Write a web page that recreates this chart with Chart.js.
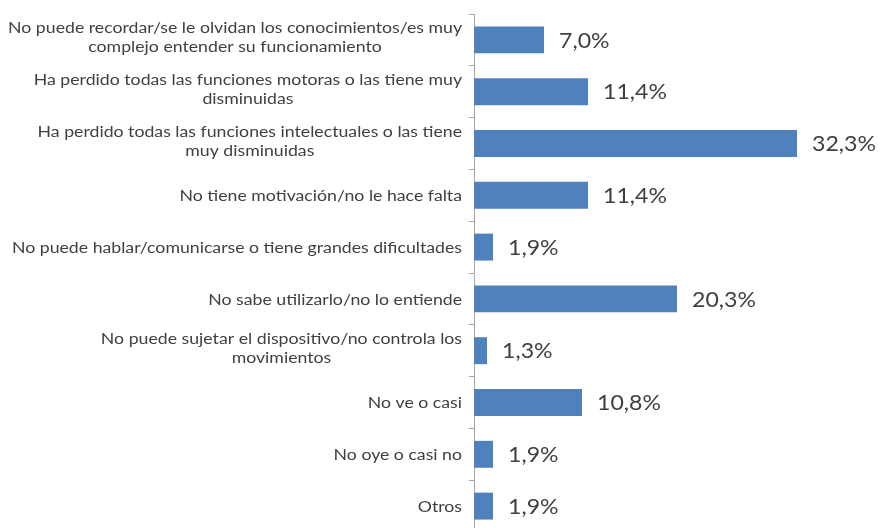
<!DOCTYPE html>
<html>
<head>
<meta charset="utf-8">
<script src="https://cdn.jsdelivr.net/npm/chart.js@4/dist/chart.umd.min.js"></script>
<style>
  html, body { margin: 0; padding: 0; background: #fff; overflow: hidden; }
  #chart { display: block; }
</style>
</head>
<body>
<canvas id="chart" width="885" height="532"></canvas>
<script>
// categories (each entry is the wrapped lines of the label)
const categories = [
    ["No puede recordar/se le olvidan los conocimientos/es muy", "complejo entender su funcionamiento"],
    ["Ha perdido todas las funciones motoras o las tiene muy", "disminuidas"],
    ["Ha perdido todas las funciones intelectuales o las tiene", "muy disminuidas"],
    ["No tiene motivación/no le hace falta"],
    ["No puede hablar/comunicarse o tiene grandes dificultades"],
    ["No sabe utilizarlo/no lo entiende"],
    ["No puede sujetar el dispositivo/no controla los", "movimientos"],
    ["No ve o casi"],
    ["No oye o casi no"],
    ["Otros"]
]
const percentages = [7.0, 11.4, 32.3, 11.4, 1.9, 20.3, 1.3, 10.8, 1.9, 1.9]

const textColor = '#404040'

// text in the original is stretched sideways, so draw it with a x-scale
function drawStretched(ctx, txt, x, y, sx) {
    ctx.save()
    ctx.translate(x, y)
    ctx.scale(sx, 1)
    ctx.fillText(txt, 0, 0)
    ctx.restore()
}

// draws the category labels: block right-aligned, lines centered inside the block
const categoryLabels = {
    id: 'categoryLabels',
    afterDraw(chart) {
        const ctx = chart.ctx
        const yScale = chart.scales.y
        const lineHeight = 19
        const sx = 1.22
        ctx.save()
        ctx.font = '14.5px Lato'
        ctx.fillStyle = textColor
        ctx.textBaseline = 'middle'
        ctx.textAlign = 'center'
        categories.forEach((lines, i) => {
            const yc = yScale.getPixelForValue(i)
            const blockW = Math.max(...lines.map(l => ctx.measureText(l).width)) * sx
            const cx = 462 - blockW / 2
            const y0 = yc - (lines.length - 1) * lineHeight / 2 + (lines.length > 1 ? -2 : 1)
            lines.forEach((l, j) => drawStretched(ctx, l, cx, y0 + j * lineHeight, sx))
        })
        ctx.restore()
    }
}

// value labels to the right of each bar
const valueLabels = {
    id: 'valueLabels',
    afterDatasetsDraw(chart) {
        const ctx = chart.ctx
        const meta = chart.getDatasetMeta(0)
        ctx.save()
        ctx.font = '21px Lato'
        ctx.fillStyle = textColor
        ctx.textBaseline = 'middle'
        ctx.textAlign = 'left'
        meta.data.forEach((bar, i) => {
            const txt = percentages[i].toFixed(1).replace('.', ',') + '%'
            drawStretched(ctx, txt, bar.x + 15, bar.y + 1, 1.1)
        })
        ctx.restore()
    }
}

new Chart(document.getElementById('chart'), {
    type: 'bar',
    data: {
        labels: categories.map(c => c.join(' ')),
        datasets: [{
            data: percentages,
            backgroundColor: '#4f81bd',
            borderWidth: 0,
            categoryPercentage: 1,
            barPercentage: 0.52
        }]
    },
    options: {
        indexAxis: 'y',
        responsive: false,
        animation: false,
        layout: { padding: { top: 14, right: 61, bottom: 0, left: 0 } },
        plugins: {
            legend: { display: false },
            tooltip: { enabled: false }
        },
        scales: {
            x: {
                display: false,
                min: 0,
                max: 35
            },
            y: {
                afterFit(scale) { scale.width = 474 },
                ticks: { display: false },
                grid: {
                    offset: true,
                    drawOnChartArea: false,
                    tickLength: 5,
                    color: '#a6a6a6'
                },
                border: { display: true, color: '#a6a6a6', width: 1 }
            }
        }
    },
    plugins: [categoryLabels, valueLabels]
});
</script>
</body>
</html>
